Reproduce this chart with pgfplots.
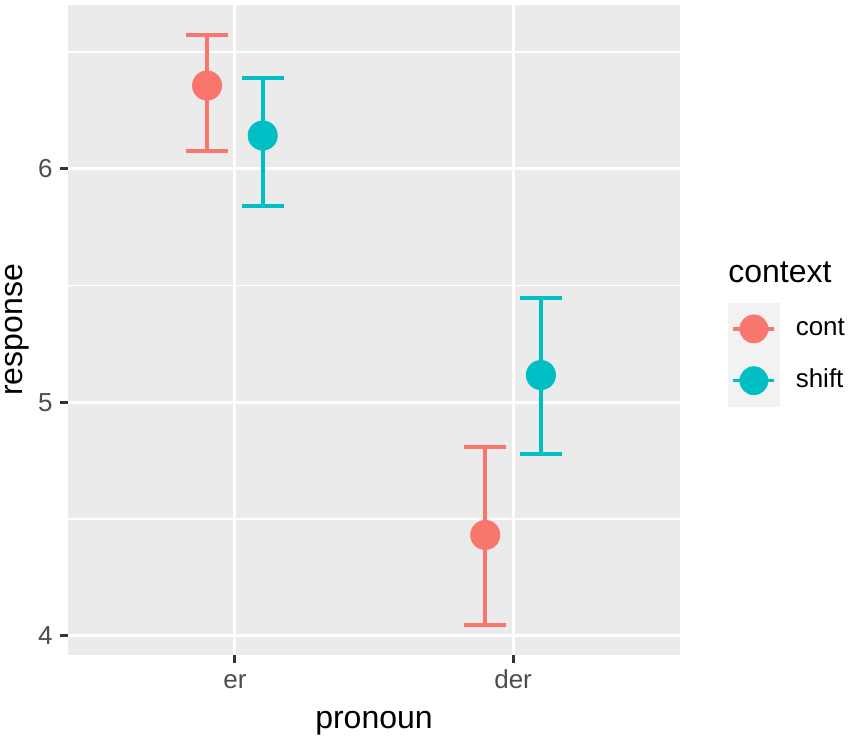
\documentclass[border=0pt]{standalone}
\usepackage{pgfplots}
\usepackage{pgfplotstable}
\pgfplotsset{compat=1.18}
\usepackage{fontspec}
\setmainfont{Liberation Sans}
\definecolor{contcol}{HTML}{F8766D}
\definecolor{shiftcol}{HTML}{00BFC4}
\definecolor{panel}{HTML}{EBEBEB}
\definecolor{keybg}{HTML}{F2F2F2}
\definecolor{tickcol}{HTML}{333333}
\definecolor{labcol}{HTML}{4D4D4D}
\pgfplotstableread{
x y ep em
0.9 6.357 0.217 0.279
1.9 4.432 0.378 0.387
}\contdata
\pgfplotstableread{
x y ep em
1.1 6.143 0.248 0.300
2.1 5.117 0.332 0.337
}\shiftdata
\begin{document}
\begin{tikzpicture}
\useasboundingbox (-34pt,-42pt) rectangle (391.5pt,327.5pt);
\begin{axis}[
  scale only axis, width=306pt, height=325pt,
  xmin=0.4, xmax=2.6, ymin=3.918, ymax=6.702,
  clip=false,
  axis background/.style={fill=panel},
  axis line style={draw=none},
  xtick={1,2}, xticklabels={er,der},
  ytick={4,5,6}, minor ytick={4.5,5.5,6.5},
  xmajorgrids, ymajorgrids, yminorgrids,
  major grid style={white, line width=1.5pt},
  minor grid style={white, line width=0.8pt},
  tick align=outside, tick pos=left,
  major tick length=4pt, minor tick length=0pt,
  tick style={tickcol, line width=1.5pt},
  /pgf/number format/assume math mode=true,
  ticklabel style={font=\fontsize{13}{15}\selectfont, text=labcol, inner sep=0pt},
  xticklabel style={anchor=base, yshift=-12.5pt},
  yticklabel style={anchor=east, xshift=-3.5pt},
  xlabel={pronoun}, ylabel={response},
  label style={font=\fontsize{16}{19}\selectfont, inner sep=0pt},
  xlabel style={at={([yshift=-36.5pt]axis description cs:0.5,0)}, anchor=base},
  ylabel style={at={([xshift=-22.5pt]axis description cs:0,0.5)}, anchor=base},
  legend style={at={(1.0784,0.54154)}, anchor=north west, draw=none, fill=none,
    inner sep=0pt, outer sep=0pt, row sep=0pt, column sep=8pt,
    nodes={inner sep=0pt, text height=6.75pt, text depth=0pt, font=\fontsize{13}{15}\selectfont}},
  legend cell align=left,
]
\addplot[only marks, mark=*, color=contcol, mark size=7.3pt,
  legend image code/.code={
    \fill[keybg] (0pt,-12.75pt) rectangle (25.5pt,12.75pt);
    \draw[contcol, line width=1.7pt] (2.5pt,0pt) -- (23pt,0pt);
    \fill[contcol] (12.75pt,0pt) circle (7pt);},
  error bars/.cd, y dir=both, y explicit,
  error bar style={line width=2pt, contcol},
  error mark options={rotate=90, line width=2pt, contcol, mark size=10.5pt}]
  table[x=x, y=y, y error plus=ep, y error minus=em]{\contdata};
\addlegendentry{cont}
\addplot[only marks, mark=*, color=shiftcol, mark size=7.3pt,
  legend image code/.code={
    \fill[keybg] (0pt,-12.75pt) rectangle (25.5pt,12.75pt);
    \draw[shiftcol, line width=1.7pt] (2.5pt,0pt) -- (23pt,0pt);
    \fill[shiftcol] (12.75pt,0pt) circle (7pt);},
  error bars/.cd, y dir=both, y explicit,
  error bar style={line width=2pt, shiftcol},
  error mark options={rotate=90, line width=2pt, shiftcol, mark size=10.5pt}]
  table[x=x, y=y, y error plus=ep, y error minus=em]{\shiftdata};
\addlegendentry{shift}
\node[anchor=base west, inner sep=0pt, font=\fontsize{16}{19}\selectfont] at (rel axis cs:1.0784,0.5738) {context};
\end{axis}
\end{tikzpicture}
\end{document}
